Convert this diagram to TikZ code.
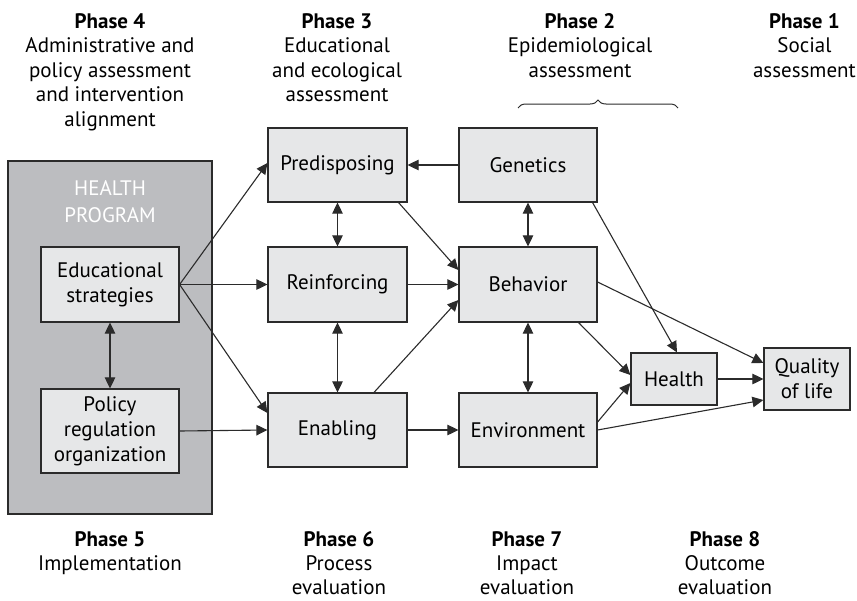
\documentclass[tikz,border=0pt]{standalone}
\usepackage{fontspec}
\setmainfont{PT Sans}
\usetikzlibrary{arrows.meta,decorations.pathreplacing}
\definecolor{boxfill}{HTML}{E6E7E8}
\definecolor{progfill}{HTML}{BCBDC0}
\definecolor{edge}{HTML}{2B2B2B}
\tikzset{
  stage/.style={draw=edge, fill=boxfill, line width=1.2pt, align=center,
    inner sep=0pt, font=\fontsize{21}{25}\selectfont},
  link/.style={draw=edge, line width=1.1pt, -{Triangle[length=11pt,width=10.5pt]}},
  twoway/.style={draw=edge, line width=1.1pt, {Triangle[length=11pt,width=10.5pt]}-{Triangle[length=11pt,width=10.5pt]}},
  phase/.style={align=center, inner sep=0pt, anchor=north,
    font=\fontsize{21}{24.5}\selectfont}
}
\begin{document}
\begin{tikzpicture}[x=1pt,y=-1pt]
\useasboundingbox (0,0) rectangle (857,600);

% health program frame
\node[draw=edge, fill=progfill, line width=1.2pt, minimum width=204pt, minimum height=353pt, inner sep=0pt] (prog) at (110,337.5) {};
\node[text=white, align=center, font=\fontsize{21}{27}\selectfont] (progtitle) at (110,202) {HEALTH\\PROGRAM};

% boxes
\node[stage, minimum width=138pt, minimum height=75pt] (edu) at (110,284.5) {Educational\\strategies};
\node[stage, minimum width=138pt, minimum height=84pt] (pol) at (110,431) {Policy\\regulation\\organization};
\node[stage, minimum width=139pt, minimum height=74pt] (pre) at (337.5,165) {Predisposing};
\node[stage, minimum width=139pt, minimum height=75pt] (rei) at (337.5,284.5) {Reinforcing};
\node[stage, minimum width=139pt, minimum height=74pt] (ena) at (337.5,430) {Enabling};
\node[stage, minimum width=138pt, minimum height=74pt] (gen) at (528,165) {Genetics};
\node[stage, minimum width=138pt, minimum height=75pt] (beh) at (528,284.5) {Behavior};
\node[stage, minimum width=138pt, minimum height=74pt] (env) at (528,430) {Environment};
\node[stage, minimum width=86pt, minimum height=52pt] (hea) at (674,379) {Health};
\node[stage, minimum width=86pt, minimum height=62pt] (qol) at (807,379) {Quality\\of life};

% connectors
\draw[link] (edu.east) -- ([yshift=2pt]pre.west);
\draw[link] (edu.east) -- (rei.west);
\draw[link] (edu.east) -- ([yshift=17pt]ena.west);
\draw[twoway] (edu.south) -- (pol.north);
\draw[link] (pol.east) -- (ena.west);
\draw[link] (gen.west) -- (pre.east);
\draw[twoway] (pre.south) -- (rei.north);
\draw[twoway] (rei.south) -- (ena.north);
\draw[link] ([xshift=-9pt]pre.south east) -- ([yshift=14.5pt]beh.west);
\draw[link] (rei.east) -- (beh.west);
\draw[link] ([xshift=36.5pt]ena.north) -- ([yshift=-15.5pt]beh.west);
\draw[link] (ena.east) -- (env.west);
\draw[twoway] (gen.south) -- (beh.north);
\draw[twoway] (beh.south) -- (env.north);
\draw[link] ([xshift=-5pt]gen.south east) -- ([xshift=3pt]hea.north);
\draw[link] ([yshift=2.5pt]beh.east) -- ([yshift=16pt]qol.west);
\draw[link] ([xshift=-19pt]beh.south east) -- ([yshift=4pt]hea.west);
\draw[link] ([yshift=8pt]env.east) -- ([yshift=-4pt]hea.west);
\draw[link] (env.east) -- ([yshift=-21pt]qol.west);
\draw[link] (hea.east) -- (qol.west);

% brace over the epidemiological columns
\coordinate (bl) at (518,108);
\coordinate (br) at (678,108);
\draw[edge, line width=1pt, decorate, decoration={brace, amplitude=8pt}] (bl) -- (br);

% phase headings
\node[phase] (p4) at (110,13) {\textbf{Phase 4}\\Administrative and\\policy assessment\\and intervention\\alignment};
\node[phase] (p3) at (337,13) {\textbf{Phase 3}\\Educational\\and ecological\\assessment};
\node[phase] (p2) at (580,13) {\textbf{Phase 2}\\Epidemiological\\assessment};
\node[phase, anchor=north east] (p1) at (856,13) {\textbf{Phase 1}\\Social\\assessment};
\node[phase] (p5) at (110,531) {\textbf{Phase 5}\\Implementation};
\node[phase, font=\fontsize{21}{24}\selectfont] (p6) at (339,531) {\textbf{Phase 6}\\Process\\evaluation};
\node[phase, font=\fontsize{21}{24}\selectfont] (p7) at (527,531) {\textbf{Phase 7}\\Impact\\evaluation};
\node[phase, font=\fontsize{21}{24}\selectfont] (p8) at (725,531) {\textbf{Phase 8}\\Outcome\\evaluation};
\end{tikzpicture}
\end{document}
